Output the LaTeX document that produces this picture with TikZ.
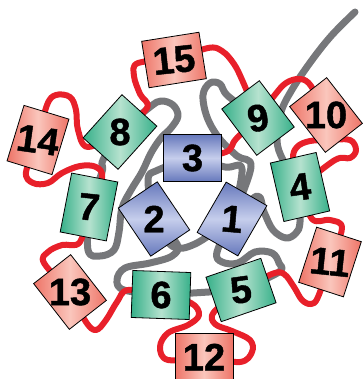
\documentclass[tikz,border=0pt]{standalone}
\usepackage{fontspec}
\setmainfont{Liberation Sans}
\newfontfamily\numfont{Liberation Sans}[BoldFeatures={FakeBold=1.2}]
\usetikzlibrary{backgrounds}
\definecolor{SalmonDark}{HTML}{EE7467}
\definecolor{SalmonLight}{HTML}{FAC6BC}
\definecolor{SeaDark}{HTML}{36B089}
\definecolor{SeaLight}{HTML}{B6E2CF}
\definecolor{PeriDark}{HTML}{6678BC}
\definecolor{PeriLight}{HTML}{C6CEEC}
\definecolor{LoopRed}{HTML}{E8202A}
\definecolor{LoopGray}{HTML}{76777A}

\begin{document}
\begin{tikzpicture}[x=1pt,y=-1pt,
  helix/.style={draw=black,line width=0.8pt,inner sep=0pt,minimum width=58pt,minimum height=47pt},
  tall/.style={minimum width=47pt,minimum height=58pt},
  outer/.style={helix,left color=SalmonDark,right color=SalmonDark,middle color=SalmonLight},
  ring/.style={helix,left color=SeaDark,right color=SeaDark,middle color=SeaLight},
  core/.style={helix,top color=PeriDark,bottom color=PeriDark,middle color=PeriLight},
  num/.style={font=\numfont\fontsize{38}{38}\selectfont\bfseries,inner sep=0pt},
  redloop/.style={draw=LoopRed,line width=6pt,line cap=round,line join=round},
  grayloop/.style={draw=LoopGray,line width=7pt,line cap=round,line join=round}
]
\useasboundingbox (0,0) rectangle (362,379);
% outer ring
\node[outer,rotate=9] (b15) at (174,60) {};
\node[outer,tall,rotate=-17] (b14) at (38,140) {};
\node[outer,tall,rotate=38] (b13) at (70,292) {};
\node[outer] (b12) at (204,357) {};
\node[outer,tall,rotate=-18] (b11) at (330,262) {};
\node[outer,tall,rotate=38] (b10) at (326,115) {};
% middle ring
\node[ring,tall,rotate=37] (b9) at (258,118) {};
\node[ring,tall,rotate=-42] (b8) at (120,132) {};
\node[ring,tall,minimum height=60pt,rotate=-11] (b7) at (89,207) {};
\node[ring,rotate=-2] (b6) at (161,295) {};
\node[ring,rotate=19] (b5) at (241,290) {};
\node[ring,tall,minimum height=60pt,rotate=13] (b4) at (300,187) {};
% core
\node[core] (b3) at (192.5,158) {};
\node[core,tall,rotate=34] (b2) at (154,219) {};
\node[core,tall,rotate=-30] (b1) at (232,219) {};
% numbers
\node[num,rotate=6] (t15) at (b15) {15};
\node[num,rotate=-8] (t14) at (b14) {14};
\node[num] (t13) at (b13) {13};
\node[num] (t12) at (b12) {12};
\node[num,rotate=-6] (t11) at (b11) {11};
\node[num] (t10) at (b10) {10};
\node[num,rotate=10] (t9) at (b9) {9};
\node[num] (t8) at (b8) {8};
\node[num,rotate=-6] (t7) at (b7) {7};
\node[num] (t6) at (b6) {6};
\node[num,rotate=8] (t5) at (b5) {5};
\node[num,rotate=8] (t4) at (b4) {4};
\node[num] (t3) at (b3) {3};
\node[num] (t2) at (b2) {2};
\node[num,rotate=-5] (t1) at (b1) {1};
\coordinate (tailend) at (355,12);

\begin{scope}[on background layer]
% gray strand
\draw[grayloop] plot[smooth,tension=0.6] coordinates {(b4) (283,160) (277,140) (281,112) (293,88) (312,60) (332,35) (tailend)};
\draw[grayloop] plot[smooth,tension=0.6] coordinates {(b4) (300,222) (296,233) (286,238) (273,230) (264,212) (257,196) (b1)};
\draw[grayloop] plot[smooth,tension=0.6] coordinates {(b9) (228,96) (220,84) (210,83) (203,95) (207,117) (219,138) (237,156) (251,167) (b1)};
\draw[grayloop] plot[smooth,tension=0.6] coordinates {(b3) (225,167) (242,169) (b1)};
\draw[grayloop] plot[smooth,tension=0.6] coordinates {(b8) (150,107) (161,101) (173,105) (178,116) (171,128) (161,138) (151,153) (142,172) (131,190) (122,208) (119,232) (114,250) (100,256) (88,250) (b7)};
\draw[grayloop] plot[smooth,tension=0.6] coordinates {(b3) (158,170) (148,180) (b2)};
\draw[grayloop] plot[smooth,tension=0.6] coordinates {(b8) (103,160) (102,172) (b7)};
\draw[grayloop] plot[smooth,tension=0.6] coordinates {(b2) (177,244) (172,256) (150,263) (125,268) (117,280) (124,290) (b6)};
\draw[grayloop] plot[smooth,tension=0.6] coordinates {(b2) (172,246) (195,244) (b1)};
\draw[grayloop] plot[smooth,tension=0.6] coordinates {(b1) (217,252) (222,262) (238,263) (255,252) (272,253) (279,263) (279,272) (b5)};
\draw[grayloop] (b6) -- (b5);
% red strand
\draw[redloop] plot[smooth,tension=0.6] coordinates {(b15) (138,63) (134,76) (140,94) (147,108) (b8)};
\draw[redloop] plot[smooth,tension=0.6] coordinates {(b8) (88,147) (78,130) (76,110) (70,97) (56,95) (47,105) (b14)};
\draw[redloop] plot[smooth,tension=0.6] coordinates {(b14) (26,172) (33,183) (48,183) (62,173) (80,166) (96,167) (102,178) (b7)};
\draw[redloop] plot[smooth,tension=0.6] coordinates {(b7) (80,242) (62,245) (48,252) (44,263) (b13)};
\draw[redloop] plot[smooth,tension=0.6] coordinates {(b13) (86,322) (96,330) (106,320) (117,302) (128,290) (b6)};
\draw[redloop] plot[smooth,tension=0.6] coordinates {(b6) (191,303) (199,315) (188,325) (168,333) (160,347) (168,360) (b12)};
\draw[redloop] plot[smooth,tension=0.6] coordinates {(b12) (240,362) (252,352) (250,340) (232,331) (215,324) (214,312) (b5)};
\draw[redloop] plot[smooth,tension=0.6] coordinates {(b5) (272,274) (284,274) (294,287) (302,300) (311,304) (318,297) (b11)};
\draw[redloop] plot[smooth,tension=0.6] coordinates {(b4) (312,219) (330,220) (342,228) (b11)};
\draw[redloop] plot[smooth,tension=0.6] coordinates {(b4) (293,160) (297,147) (310,141) (330,140) (350,140) (356,150) (350,158) (335,160) (b4)};
\draw[redloop] plot[smooth,tension=0.6] coordinates {(b9) (274,96) (286,83) (300,79) (311,86) (b10)};
\draw[redloop] plot[smooth,tension=0.6] coordinates {(b15) (208,48) (222,51) (234,64) (243,82) (b9)};
\draw[redloop] plot[smooth,tension=0.6] coordinates {(b3) (226,152) (236,139) (b9)};
\end{scope}
\end{tikzpicture}
\end{document}
